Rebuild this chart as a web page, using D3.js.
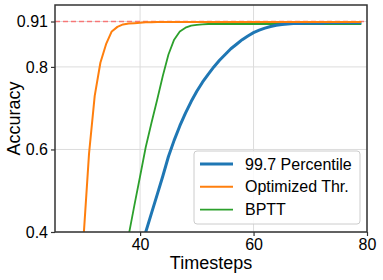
<!DOCTYPE html>
<html>
<head>
<meta charset="utf-8">
<script src="https://cdn.jsdelivr.net/npm/d3@7"></script>
<style>
  body { margin: 0; background: #fff; }
  text { font-family: "Liberation Sans", Arial, sans-serif; fill: #000; }
</style>
</head>
<body>
<div id="chart"></div>
<script>
// accuracy per timestep, each series starts at its own timestep
const percentileStart = 39;
const percentileAcc = [0.31, 0.355, 0.40, 0.445, 0.49, 0.535, 0.583, 0.622, 0.657, 0.688,
    0.716, 0.741, 0.763, 0.782, 0.80, 0.816, 0.83, 0.844, 0.855, 0.866,
    0.875, 0.883, 0.889, 0.894, 0.898, 0.901, 0.903, 0.904, 0.905, 0.905,
    0.906, 0.906, 0.906, 0.906, 0.907, 0.907, 0.907, 0.907, 0.907, 0.907, 0.907];

const optimizedStart = 29;
const optimizedAcc = [0.2, 0.38, 0.59, 0.73, 0.81, 0.855, 0.886, 0.897, 0.903, 0.905,
    0.906, 0.907, 0.908, 0.908, 0.909, 0.909, 0.909, 0.909, 0.909, 0.909,
    0.909, 0.909, 0.909, 0.909, 0.909, 0.909, 0.909, 0.909, 0.909, 0.909,
    0.909, 0.909, 0.909, 0.909, 0.909, 0.909, 0.909, 0.909, 0.909, 0.909,
    0.909, 0.909, 0.909, 0.909, 0.909, 0.909, 0.909, 0.909, 0.909, 0.909, 0.909];

const bpttStart = 37;
const bpttAcc = [0.31, 0.393, 0.465, 0.535, 0.606, 0.664, 0.72, 0.778, 0.83, 0.866,
    0.886, 0.895, 0.90, 0.902, 0.903, 0.904, 0.904, 0.904, 0.904, 0.904,
    0.904, 0.904, 0.904, 0.904, 0.904, 0.904, 0.904, 0.904, 0.904, 0.904,
    0.904, 0.904, 0.904, 0.904, 0.904, 0.904, 0.904, 0.904, 0.904, 0.904,
    0.904, 0.904, 0.904];

const seriesNames = ["99.7 Percentile", "Optimized Thr.", "BPTT"];
const seriesColors = ["#1f77b4", "#ff7f0e", "#2ca02c"];
const seriesWidths = [3, 2, 1.8];
const xTicks = [40, 60, 80];
const yTicks = [0.4, 0.6, 0.8, 0.91];
const targetAcc = 0.91;

const margin = { top: 5, right: 16, bottom: 48, left: 55 };
const W = 383, H = 280;
const width = W - margin.left - margin.right;
const height = H - margin.top - margin.bottom;

const svg = d3.select("#chart").append("svg")
    .attr("width", W)
    .attr("height", H);

const g = svg.append("g")
    .attr("transform", `translate(${margin.left},${margin.top})`);

const x = d3.scaleLinear().domain([25, 80]).range([0, width]);
const y = d3.scaleLinear().domain([0.4, 0.95]).range([height, 0]);

g.append("clipPath").attr("id", "clip")
  .append("rect").attr("width", width).attr("height", height);

//grid
g.append("g")
    .selectAll("line")
    .data(xTicks)
    .join("line")
    .attr("x1", d => x(d)).attr("x2", d => x(d))
    .attr("y1", 0).attr("y2", height)
    .attr("stroke", "#dcdcdc").attr("stroke-width", 1);
g.append("g")
    .selectAll("line")
    .data(yTicks)
    .join("line")
    .attr("x1", 0).attr("x2", width)
    .attr("y1", d => y(d)).attr("y2", d => y(d))
    .attr("stroke", "#dcdcdc").attr("stroke-width", 1);

//target line
g.append("line")
    .attr("x1", 0).attr("x2", width)
    .attr("y1", y(targetAcc)).attr("y2", y(targetAcc))
    .attr("stroke", "#ff5555").attr("stroke-opacity", 0.75)
    .attr("stroke-width", 1.3)
    .attr("stroke-dasharray", "5,3");

const series = [
    { start: percentileStart, values: percentileAcc },
    { start: optimizedStart, values: optimizedAcc },
    { start: bpttStart, values: bpttAcc }
];

const line = d3.line()
    .x(d => x(d.t))
    .y(d => y(d.v));

// draw BPTT first, then percentile, optimized on top
const order = [2, 0, 1];
const lines = g.append("g").attr("clip-path", "url(#clip)");
order.forEach(k => {
    const s = series[k];
    const pts = s.values.map((v, i) => ({ t: s.start + i, v: v }));
    lines.append("path")
        .datum(pts)
        .attr("fill", "none")
        .attr("stroke", seriesColors[k])
        .attr("stroke-width", seriesWidths[k])
        .attr("stroke-linejoin", "round")
        .attr("d", line);
});

//axes
const xAxis = g.append("g")
    .attr("transform", `translate(0,${height})`)
    .call(d3.axisBottom(x).tickValues(xTicks).tickSize(4).tickPadding(3));
const yAxis = g.append("g")
    .call(d3.axisLeft(y).tickValues(yTicks).tickSize(4).tickPadding(3)
        .tickFormat(d => d === 0.91 ? "0.91" : d3.format(".1f")(d)));
[xAxis, yAxis].forEach(a => {
    a.select(".domain").remove();
    a.selectAll("line").attr("stroke", "#333").attr("stroke-width", 1.2);
    a.selectAll("text").style("font-size", "16px").attr("fill", "#000");
});

//frame
g.append("rect")
    .attr("width", width).attr("height", height)
    .attr("fill", "none")
    .attr("stroke", "#333").attr("stroke-width", 1.5);

//axis labels
g.append("text")
    .attr("x", width / 2)
    .attr("y", height + 37)
    .attr("text-anchor", "middle")
    .style("font-size", "18px")
    .text("Timesteps");
g.append("text")
    .attr("transform", "rotate(-90)")
    .attr("x", -height / 2)
    .attr("y", -margin.left + 20)
    .attr("text-anchor", "middle")
    .style("font-size", "18px")
    .text("Accuracy");

//legend
const lg = g.append("g")
    .attr("transform", `translate(${x(25) + 139},${146})`);
lg.append("rect")
    .attr("width", 166).attr("height", 73)
    .attr("rx", 3)
    .attr("fill", "#fff").attr("fill-opacity", 0.85)
    .attr("stroke", "#ccc").attr("stroke-width", 1);
const item = lg.selectAll("g")
    .data(seriesNames)
    .join("g")
    .attr("transform", (d, i) => `translate(0,${13 + i * 22.8})`);
item.append("line")
    .attr("x1", 6).attr("x2", 39)
    .attr("stroke", (d, i) => seriesColors[i])
    .attr("stroke-width", (d, i) => seriesWidths[i]);
item.append("text")
    .attr("x", 51)
    .attr("y", 5.5)
    .style("font-size", "16px")
    .text(d => d);
</script>
</body>
</html>
